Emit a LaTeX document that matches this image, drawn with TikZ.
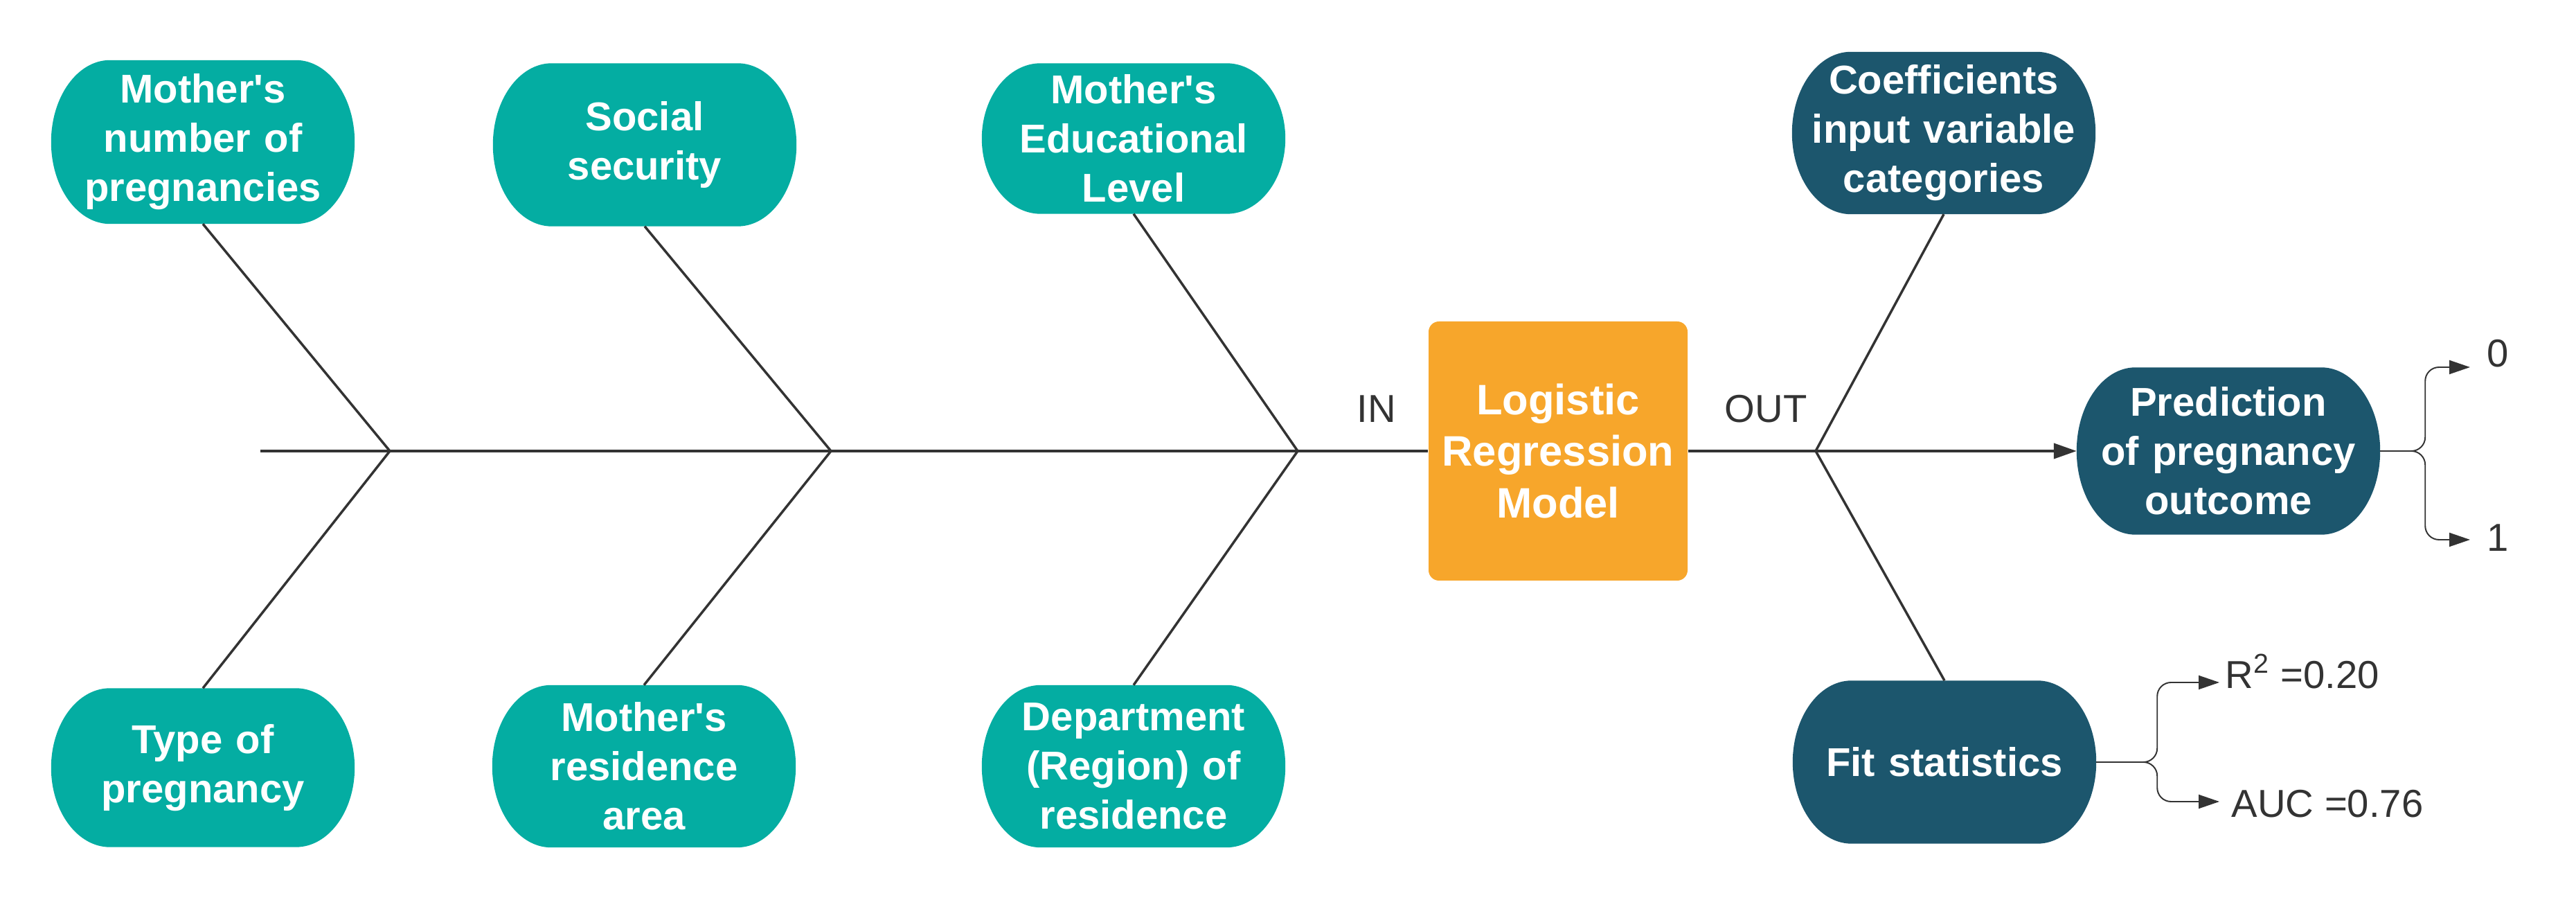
\documentclass[tikz,border=0pt]{standalone}
\usepackage{fontspec}
\setmainfont{Liberation Sans}
\setsansfont{Liberation Sans}
\usetikzlibrary{arrows.meta, calc, backgrounds}
\definecolor{fishteal}{RGB}{4,173,162}
\definecolor{fishnavy}{RGB}{28,86,109}
\definecolor{fishorange}{RGB}{247,166,43}
\definecolor{ink}{RGB}{51,51,51}

% pill shaped fill behind a node (elliptic ends)
\newcommand{\pill}[2]{%
  \fill[#2] let \p1=(#1.south west), \p2=(#1.north east), \n1={(\y2-\y1)/2} in
    (\x1,\y1+\n1) arc[start angle=180, end angle=90, x radius=0.85cm, y radius={\n1*1pt}]
    -- (\x2-0.85cm,\y2) arc[start angle=90, end angle=-90, x radius=0.85cm, y radius={\n1*1pt}]
    -- (\x1+0.85cm,\y1) arc[start angle=270, end angle=180, x radius=0.85cm, y radius={\n1*1pt}]
    -- cycle;}

\begin{document}
\begin{tikzpicture}[font=\sffamily,
  cause/.style={rectangle, minimum width=4.37cm, text width=4.3cm, align=center,
    inner sep=0pt, text=white, font=\sffamily\bfseries\fontsize{16.5}{20.2}\selectfont},
  model/.style={rectangle, rounded corners=0.15cm, fill=fishorange, minimum width=3.74cm,
    minimum height=3.74cm, align=center, inner sep=0pt, text=white,
    font=\sffamily\bfseries\fontsize{17.5}{21.3}\selectfont},
  lbl/.style={inner sep=0pt, text=ink, font=\sffamily\fontsize{16}{19}\selectfont},
  spine/.style={line width=1.15pt, color=ink},
  bone/.style={line width=1pt, color=ink},
  brace/.style={line width=0.55pt, color=ink, rounded corners=0.2cm,
    -{Triangle[length=0.3cm, width=0.2cm]}}]
\useasboundingbox (0,0) rectangle (37.2,12.99);

% ---- causes (inputs) ----
\node[cause, minimum height=2.35cm] (n1) at (2.93,10.94) {Mother\textquotesingle s\\number of\\pregnancies};
\node[cause, minimum height=2.34cm] (n2) at (9.31,10.90) {Social\\security};
\node[cause, minimum height=2.16cm] (n3) at (16.37,10.99) {Mother\textquotesingle s\\Educational\\Level};
\node[cause, minimum height=2.28cm] (b1) at (2.93,1.91) {Type of\\pregnancy};
\node[cause, minimum height=2.33cm] (b2) at (9.30,1.93) {Mother\textquotesingle s\\residence\\area};
\node[cause, minimum height=2.33cm] (b3) at (16.37,1.93) {Department\\(Region) of\\residence};

% ---- model ----
\node[model] (model) at (22.50,6.48) {Logistic\\Regression\\Model};

% ---- outputs ----
\node[cause, minimum height=2.33cm] (c1) at (28.07,11.07) {Coefficients\\input variable\\categories};
\node[cause, minimum height=2.40cm] (pred) at (32.18,6.48) {Prediction\\of pregnancy\\outcome};
\node[cause, minimum height=2.34cm] (fit) at (28.08,1.99) {Fit statistics};

\begin{scope}[on background layer]
  \foreach \nd in {n1,n2,n3,b1,b2,b3} {\pill{\nd}{fishteal}}
  \foreach \nd in {c1,pred,fit} {\pill{\nd}{fishnavy}}
\end{scope}

% ---- spine and bones ----
\coordinate (tail) at (3.76,6.48);
\coordinate (j1) at (5.63,6.48);
\coordinate (j2) at (12.00,6.48);
\coordinate (j3) at (18.74,6.48);
\coordinate (j4) at (26.22,6.48);
\draw[spine] (tail) -- (j1) -- (j2) -- (j3) -- (model.west);
\draw[spine] (model.east) -- (j4);
\draw[spine, -{Triangle[length=0.33cm, width=0.22cm]}] (j4) -- (pred.west);

\draw[bone] (j1) -- (n1.south);
\draw[bone] (j1) -- (b1.north);
\draw[bone] (j2) -- (n2.south);
\draw[bone] (j2) -- (b2.north);
\draw[bone] (j3) -- (n3.south);
\draw[bone] (j3) -- (b3.north);
\draw[bone] (j4) -- (c1.south);
\draw[bone] (j4) -- (fit.north);

\node[lbl] (inlbl) at (19.88,7.09) {IN};
\node[lbl] (outlbl) at (25.50,7.09) {OUT};

% ---- prediction classes ----
\coordinate (p0) at (35.67,7.69);
\coordinate (p1) at (35.67,5.20);
\draw[brace] (pred.east) -- ++(0.65,0) |- (p0);
\draw[brace] (pred.east) -- ++(0.65,0) |- (p1);
\node[lbl] (zero) at (36.07,7.89) {0};
\node[lbl] (one) at (36.07,5.23) {1};

% ---- fit statistics ----
\coordinate (f0) at (32.05,3.14);
\coordinate (f1) at (32.05,1.42);
\draw[brace] (fit.east) -- ++(0.88,0) |- (f0);
\draw[brace] (fit.east) -- ++(0.88,0) |- (f1);
\node[lbl, anchor=west] (rsq) at (32.13,3.30) {R\textsuperscript{2} =0.20};
\node[lbl, anchor=west] (auc) at (32.22,1.39) {AUC =0.76};
\end{tikzpicture}
\end{document}
